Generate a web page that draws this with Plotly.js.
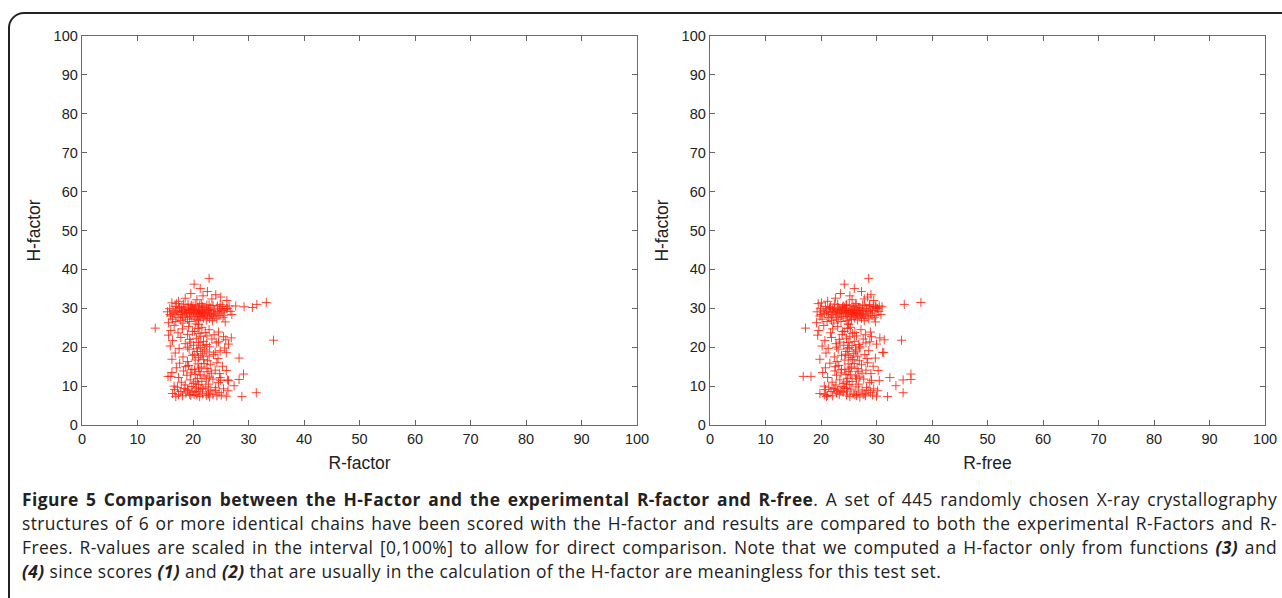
<!DOCTYPE html>
<html>
<head>
<meta charset="utf-8">
<script src="https://cdn.plot.ly/plotly-3.0.1.min.js"></script>
<style>
  html, body { margin: 0; padding: 0; background: #fff; width: 1282px; height: 598px; overflow: hidden; }
  #frame { position: absolute; left: 8px; top: 12px; width: 1320px; height: 640px; border: 2px solid #222; border-top-left-radius: 16px; box-sizing: border-box; }
  #chart { position: absolute; left: 0; top: 0; width: 1282px; height: 598px; }
  #caption { position: absolute; left: 22px; top: 487px; width: 1255px; font-family: "Open Sans", "Noto Sans", sans-serif; font-size: 17.4px; line-height: 24px; color: #222; letter-spacing: 0.4px; }
  #caption .ln { text-align: justify; text-align-last: justify; white-space: nowrap; }
  #caption .last { text-align: left; text-align-last: left; }
</style>
</head>
<body>
<div id="frame"></div>
<div id="chart"></div>
<div id="caption">
  <div class="ln"><b>Figure 5 Comparison between the H-Factor and the experimental R-factor and R-free</b>. A set of 445 randomly chosen X-ray crystallography</div>
  <div class="ln">structures of 6 or more identical chains have been scored with the H-factor and results are compared to both the experimental R-Factors and R-</div>
  <div class="ln">Frees. R-values are scaled in the interval [0,100%] to allow for direct comparison. Note that we computed a H-factor only from functions <b><i>(3)</i></b> and</div>
  <div class="ln last"><b><i>(4)</i></b> since scores <b><i>(1)</i></b> and <b><i>(2)</i></b> that are usually in the calculation of the H-factor are meaningless for this test set.</div>
</div>
<script>
// H-factor of each structure (shared by both panels)
const hFactor = [
  37.7,36.2,35.1,34.3,33.8,33.5,33.2,32.9,32.6,32.4,32.2,32.0,31.8,31.5,31.0,30.2,30.4,30.6,
  31.4,31.2,31.1,31.0,30.9,30.8,30.8,30.7,30.6,30.5,
  30.5,30.4,30.3,30.3,30.2,30.1,30.0,30.0,29.9,29.9,
  29.8,29.8,29.7,29.7,29.6,29.6,29.5,29.5,29.4,29.4,
  29.3,29.3,29.2,29.2,29.1,29.1,29.0,29.0,28.9,28.9,
  28.8,28.8,28.7,28.7,28.6,28.6,28.5,28.5,28.4,28.4,
  28.3,28.3,28.2,28.2,28.1,28.0,28.0,27.9,27.9,27.8,
  27.8,27.7,27.6,27.6,27.5,27.5,27.4,27.3,27.2,27.2,
  27.1,27.0,26.9,26.8,26.8,26.6,26.6,26.5,26.3,26.2,
  26.0,
  30.1,29.9,29.7,29.5,29.3,29.1,28.9,28.7,28.5,28.3,
  30.4,30.6,29.8,29.4,29.0,28.6,29.6,29.2,28.8,30.2,
  29.0,28.4,30.8,30.9,31.2,31.0,29.4,28.2,29.9,30.6,
  25.6,25.3,25.1,24.9,24.7,24.5,24.3,24.1,23.9,23.7,
  23.5,23.3,23.1,22.9,22.7,22.5,22.3,22.1,21.8,21.9,
  21.7,21.5,21.3,21.1,20.9,20.7,20.5,20.3,20.1,19.9,
  19.7,19.5,19.3,19.1,18.9,18.7,18.6,18.5,18.3,18.1,
  17.9,17.7,17.5,17.2,17.3,17.1,16.9,16.7,16.5,16.3,
  25.8,24.8,23.8,22.8,21.2,20.4,19.6,18.8,17.8,16.8,
  20.0,22.0,24.0,18.2,23.2,21.4,19.8,20.8,22.4,
  15.9,15.7,15.5,15.3,15.1,14.9,14.7,14.5,14.3,14.1,
  13.9,13.7,13.5,13.3,13.1,13.0,12.8,12.6,12.5,12.5,
  12.2,12.2,12.0,11.7,11.8,11.6,11.6,11.4,11.2,11.0,
  10.9,10.7,10.5,10.3,10.1,10.0,15.8,14.6,13.8,12.9,
  11.9,11.1,10.4,14.2,13.4,12.3,16.0,15.0,14.0,13.2,
  11.5,
  9.9,9.8,9.7,9.6,9.5,9.4,9.3,9.2,9.1,9.0,
  8.9,8.8,8.7,8.6,8.5,8.4,8.3,8.2,8.1,8.0,
  7.9,7.9,7.8,7.7,7.7,7.6,7.5,7.5,7.4,7.3,
  7.3,7.2,7.6,8.6,9.2,8.0,8.9,7.8,9.4,8.3,
  7.3
];

// Experimental R-factor (%)
const rFactor = [
  22.9,20.2,21.3,22.6,19.6,24.1,21.8,25.0,18.6,23.4,20.7,26.1,17.4,33.2,31.5,30.7,29.2,27.7,
  16.2,17.0,18.3,19.1,20.4,21.2,22.5,23.6,24.4,25.3,
  16.8,18.0,19.6,20.9,22.0,23.1,24.8,26.2,15.8,17.5,
  18.7,19.9,21.5,22.8,23.9,25.6,16.4,17.9,19.3,20.6,
  21.8,23.3,24.5,26.7,15.4,17.1,18.4,20.1,21.1,22.3,
  23.7,25.0,16.6,18.9,20.4,21.6,22.9,24.1,27.0,17.7,
  19.5,20.8,22.1,23.4,24.7,16.0,18.1,19.8,21.3,22.6,
  23.8,25.4,17.3,18.6,20.2,21.9,23.0,24.3,16.3,19.0,
  20.7,22.4,17.8,21.0,23.5,16.9,19.4,25.8,15.6,18.2,
  20.5,
  19.2,20.3,20.0,21.0,19.7,21.4,19.4,20.9,21.7,21.2,
  21.7,20.0,22.4,22.7,22.0,23.1,18.5,18.0,18.8,17.6,
  16.9,15.9,19.7,22.9,21.5,24.9,25.2,25.6,26.0,26.5,
  16.6,19.2,21.6,13.2,18.1,22.9,16.0,20.3,24.6,17.3,
  21.1,19.0,15.6,22.5,25.5,17.8,20.6,23.4,34.5,25.9,
  16.3,21.9,19.6,24.2,18.6,22.4,20.1,15.9,23.0,21.3,
  17.5,19.3,22.1,24.9,20.8,24.0,26.0,16.8,21.7,23.7,
  19.9,22.9,18.2,28.3,21.0,24.5,16.2,20.4,22.6,19.0,
  21.0,20.9,22.2,21.4,21.0,21.8,20.7,22.5,21.4,21.9,
  19.0,19.4,19.9,20.2,23.8,24.6,25.7,26.4,26.9,
  17.6,20.9,23.1,19.2,25.3,21.5,17.0,22.5,19.8,24.0,
  18.3,21.1,16.2,23.3,29.1,20.4,18.9,22.0,15.5,16.0,
  24.9,17.4,20.8,28.3,23.6,26.2,19.5,26.4,21.6,17.9,
  24.6,20.1,22.8,18.6,27.4,16.6,22.0,21.0,22.7,21.3,
  22.4,20.5,21.0,20.3,19.6,23.0,24.3,18.7,26.0,24.8,
  25.0,
  19.8,22.3,17.2,24.1,20.6,18.4,25.5,21.4,16.7,23.2,
  19.1,26.3,21.0,17.8,22.7,20.0,24.7,18.7,16.3,21.7,
  23.6,19.4,17.4,25.1,20.7,22.4,18.1,24.3,26.0,21.2,
  16.9,23.0,19.6,20.4,19.0,22.8,24.0,20.2,21.8,31.4,
  28.8
];

// Experimental R-free (%)
const rFree = [
  28.6,24.2,26.0,27.3,23.5,29.0,25.2,28.4,22.6,27.8,25.6,29.5,21.2,38.0,35.0,29.9,31.0,30.5,
  20.1,19.5,22.4,23.0,24.6,25.1,26.3,27.9,28.7,29.4,
  20.8,21.7,23.9,24.2,26.8,27.0,28.2,30.1,19.9,21.5,
  22.1,23.4,25.7,26.5,27.4,29.0,20.4,22.9,24.1,25.3,
  26.1,27.6,28.5,30.4,19.3,21.0,22.6,24.4,25.0,25.9,
  27.2,28.9,20.6,23.3,24.8,26.4,27.1,28.0,30.8,21.8,
  23.7,25.4,26.2,27.7,29.2,19.8,22.0,24.0,25.2,26.9,
  28.3,29.6,21.4,22.8,24.5,26.0,27.3,28.6,20.2,23.1,
  25.5,26.6,21.9,24.7,27.8,21.1,23.6,29.8,19.2,22.3,
  24.9,
  23.2,24.3,23.8,25.5,23.5,24.9,24.6,25.6,25.8,26.5,
  25.9,24.0,26.0,27.0,26.7,27.5,22.5,22.2,23.0,21.6,
  21.3,20.0,24.5,27.5,26.3,28.8,29.3,29.9,30.2,29.8,
  20.5,23.0,25.3,17.2,22.1,27.2,19.6,24.2,28.9,21.7,
  25.7,23.8,19.4,26.4,29.1,21.9,24.6,27.6,34.5,31.4,
  20.7,26.0,23.4,28.1,22.7,26.8,24.1,20.2,27.0,25.1,
  21.3,23.1,26.2,28.6,24.7,31.1,31.3,20.9,25.9,27.9,
  23.7,26.6,22.4,29.8,25.4,28.3,19.8,24.3,26.9,22.9,
  25.0,24.8,26.1,25.2,24.9,25.6,24.8,26.3,25.0,25.7,
  22.8,23.3,23.9,24.4,28.0,28.8,27.0,30.0,30.6,
  21.6,24.9,27.3,23.2,29.4,25.5,20.8,26.5,23.7,28.1,
  22.5,25.0,20.3,27.4,36.2,24.5,22.8,26.2,16.8,18.2,
  32.4,21.2,24.8,36.2,27.7,34.8,23.4,30.5,25.6,22.0,
  28.8,24.1,26.8,22.7,33.5,20.6,26.0,25.2,26.7,25.3,
  26.4,24.6,25.1,24.3,23.6,27.0,28.4,22.6,30.3,29.0,
  29.1,
  23.8,26.3,21.4,28.2,24.2,22.3,29.5,25.4,20.8,27.4,
  23.0,30.2,24.8,21.8,26.7,24.0,28.9,22.8,19.8,25.8,
  27.6,23.3,20.6,29.3,24.6,26.4,22.1,28.0,30.0,25.2,
  21.0,27.0,21.2,23.6,22.5,27.9,28.5,26.1,24.6,34.8,
  32.0
];

const tickVals = [0,10,20,30,40,50,60,70,80,90,100];
const xTitles = ['R-factor', 'R-free'];
const yTitle = 'H-factor';

const W = 1282, H = 598;
const markerStyle = { symbol: 'cross-thin', size: 6.5, color: '#ff2a10', line: { width: 1, color: 'rgba(255,35,15,0.85)' } };

const traces = [
  { x: rFactor, y: hFactor, type: 'scatter', mode: 'markers', marker: markerStyle, xaxis: 'x', yaxis: 'y', hoverinfo: 'x+y' },
  { x: rFree, y: hFactor, type: 'scatter', mode: 'markers', marker: markerStyle, xaxis: 'x2', yaxis: 'y2', hoverinfo: 'x+y' }
];

function axis(extra) {
  return Object.assign({
    range: [0, 100], tickmode: 'array', tickvals: tickVals, ticktext: tickVals.map(String),
    ticks: 'inside', ticklen: 5, tickwidth: 1, tickcolor: '#666',
    showline: true, linecolor: '#6a6a6a', linewidth: 1.3, mirror: 'ticks',
    showgrid: false, zeroline: false, automargin: false, fixedrange: true,
    tickfont: { family: 'Liberation Sans, Arial, sans-serif', size: 14.5, color: '#222' }
  }, extra);
}
const titleFont = { family: 'Liberation Sans, Arial, sans-serif', size: 17.5, color: '#222' };
const yDom = [1 - 425 / H, 1 - 36 / H];

const layout = {
  width: W, height: H,
  margin: { l: 0, r: 0, t: 0, b: 0 },
  paper_bgcolor: 'rgba(0,0,0,0)', plot_bgcolor: 'rgba(0,0,0,0)',
  showlegend: false,
  xaxis: axis({ domain: [82 / W, 637 / W], anchor: 'y', title: { text: xTitles[0], font: titleFont, standoff: 11 } }),
  yaxis: axis({ domain: yDom, anchor: 'x', title: { text: yTitle, font: titleFont, standoff: 8 } }),
  xaxis2: axis({ domain: [710 / W, 1265 / W], anchor: 'y2', title: { text: xTitles[1], font: titleFont, standoff: 11 } }),
  yaxis2: axis({ domain: yDom, anchor: 'x2', title: { text: yTitle, font: titleFont, standoff: 8 } })
};

Plotly.newPlot('chart', traces, layout, { staticPlot: true, displayModeBar: false });
</script>
</body>
</html>
